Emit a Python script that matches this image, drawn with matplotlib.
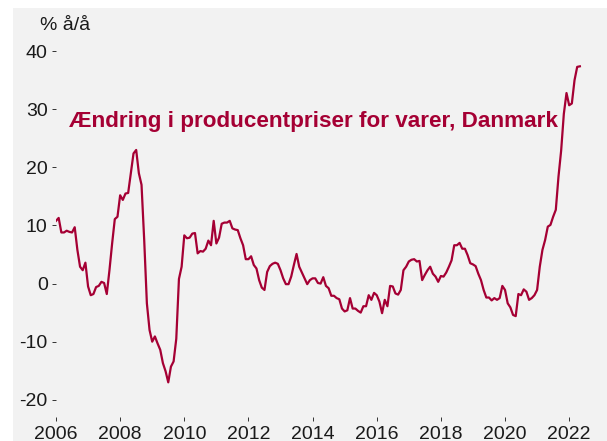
import numpy as np
import matplotlib
matplotlib.use("Agg")
import matplotlib.pyplot as plt
from matplotlib.patches import Rectangle

plt.rcParams['font.family'] = ['Liberation Sans', 'DejaVu Sans']
plt.rcParams['axes.unicode_minus'] = False

# Producentpriser, % å/å, maanedlig fra jan 2006
y2006 = [10.8, 11.3, 8.8, 8.8, 9.1, 8.9, 8.8, 9.7, 5.8, 2.9, 2.3, 3.6]
y2007 = [-0.5, -2.0, -1.8, -0.6, -0.4, 0.3, 0.1, -1.8, 2.3, 6.9, 11.1, 11.5]
y2008 = [15.2, 14.4, 15.5, 15.6, 19.0, 22.4, 23.0, 19.0, 17.0, 7.5, -3.4, -8.0]
y2009 = [-10.0, -9.1, -10.3, -11.4, -13.7, -15.1, -17.0, -14.3, -13.4, -9.5, 0.8, 2.9]
y2010 = [8.3, 7.8, 7.9, 8.6, 8.7, 5.2, 5.6, 5.5, 6.0, 7.4, 6.6, 10.8]
y2011 = [6.9, 7.9, 10.3, 10.5, 10.5, 10.8, 9.5, 9.3, 9.2, 7.8, 6.6, 4.2]
y2012 = [4.2, 4.7, 3.2, 2.6, 0.6, -0.7, -1.1, 2.0, 3.0, 3.4, 3.6, 3.4]
y2013 = [2.3, 0.9, -0.1, -0.1, 1.2, 3.2, 5.1, 2.9, 1.9, 0.9, -0.1, 0.6]
y2014 = [0.9, 0.9, 0.1, 0.0, 1.1, -0.4, -0.8, -2.1, -2.1, -2.5, -2.7, -4.3]
y2015 = [-4.8, -4.6, -2.5, -4.3, -4.3, -4.7, -5.0, -3.9, -3.9, -2.0, -2.8, -1.6]
y2016 = [-2.0, -3.1, -5.1, -2.8, -3.9, -0.4, -0.5, -1.7, -1.9, -1.1, 2.3, 2.9]
y2017 = [3.8, 4.1, 4.2, 3.8, 3.9, 0.6, 1.5, 2.3, 2.9, 1.7, 1.2, 0.3]
y2018 = [1.3, 1.2, 1.9, 2.9, 4.0, 6.6, 6.6, 7.0, 6.0, 6.0, 4.9, 3.5]
y2019 = [3.3, 3.0, 1.7, 0.6, -1.1, -2.4, -2.4, -2.9, -2.5, -2.8, -2.5, -0.4]
y2020 = [-1.1, -3.4, -4.1, -5.4, -5.6, -1.8, -2.0, -1.0, -1.4, -2.8, -2.5, -2.0]
y2021 = [-1.1, 2.9, 5.8, 7.5, 9.8, 10.1, 11.5, 12.7, 18.4, 22.9, 29.2, 32.8]
y2022 = [30.7, 31.0, 35.0, 37.3, 37.4]

vaerdier = (y2006 + y2007 + y2008 + y2009 + y2010 + y2011 + y2012 + y2013 + y2014
            + y2015 + y2016 + y2017 + y2018 + y2019 + y2020 + y2021 + y2022)
aar = 2006 + np.arange(len(vaerdier)) / 12

ticks_x = [2006, 2008, 2010, 2012, 2014, 2016, 2018, 2020, 2022]
ticks_y = [-20, -10, 0, 10, 20, 30, 40]

baggrund = "#f2f2f2"
roed = "#a50034"

fig = plt.figure(figsize=(6.07, 4.41), dpi=100)
fig.patch.set_facecolor("white")
# graa flade bag grafen (lidt hvid kant foroven og til venstre)
fig.patches.append(Rectangle((13 / 607, 0), 1, (441 - 8) / 441, transform=fig.transFigure,
                             facecolor=baggrund, edgecolor="none", zorder=-1))

ax = fig.add_axes([56 / 607, 0.054, 526 / 607, 0.8694])
ax.set_facecolor(baggrund)
ax.plot(aar, vaerdier, color=roed, lw=1.6, solid_joinstyle="round")

ax.set_xlim(2006.0, 2022.4)
ax.set_ylim(-23, 43)
ax.set_xticks(ticks_x)
ax.set_yticks(ticks_y)
for s in ax.spines.values():
    s.set_visible(False)
ax.tick_params(direction="out", length=3, width=0.7, color="#333333",
               labelsize=14, labelcolor="#1a1a1a", pad=3)

fig.text(40 / 607, 1 - 25 / 441, "% å/å", fontsize=14, color="#1a1a1a", ha="left", va="center")

ax.text(2006.4, 27.0, "Ændring i producentpriser for varer, Danmark", color=roed,
        fontsize=16.2, fontweight="bold", ha="left", va="baseline")

fig.savefig("out.png", dpi=100, facecolor=fig.get_facecolor())
